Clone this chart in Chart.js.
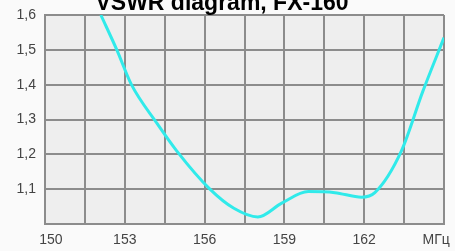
<!DOCTYPE html>
<html>
<head>
<meta charset="utf-8">
<script src="https://cdn.jsdelivr.net/npm/chart.js@4/dist/chart.umd.min.js"></script>
<style>
    html, body { margin: 0; padding: 0; background: #fafafa; overflow: hidden; }
    #wrap { position: relative; width: 455px; height: 263px; margin-top: -12px; }
</style>
</head>
<body>
<div id="wrap"><canvas id="chart"></canvas></div>
<script>
const title = 'VSWR diagram, FX-160';
const unitLabel = 'МГц';
const xLabels = [150, 153, 156, 159, 162];
const frequencies = [152.1, 152.7, 153.25, 154.2, 154.95, 156.2, 157.1, 158.0, 158.9, 159.9, 160.9, 161.9, 162.4, 163.4, 164.2, 165.0];
const vswr = [1.60, 1.50, 1.40, 1.29, 1.21, 1.10, 1.045, 1.02, 1.06, 1.093, 1.09, 1.077, 1.09, 1.21, 1.38, 1.535];

const tickFont = { family: '"Liberation Sans", Arial, sans-serif', size: 14 };
const nbsp = '\u00a0';

const plotBackground = {
    id: 'plotBackground',
    beforeDraw(chart) {
        const { ctx, chartArea } = chart;
        ctx.save();
        ctx.fillStyle = '#eeeeee';
        ctx.fillRect(chartArea.left, chartArea.top, chartArea.width, chartArea.height);
        ctx.restore();
    },
};

// edge labels sit a little inside the plot, like the original scan
function xTickLabel(value) {
    if (Math.abs(value - 165) < 1e-6) {
        return unitLabel + nbsp.repeat(4);
    }
    const hit = xLabels.find((v) => Math.abs(v - value) < 1e-6);
    if (hit === undefined) {
        return '';
    }
    return hit === xLabels[0] ? nbsp.repeat(3) + hit : String(hit);
}

new Chart(document.getElementById('chart'), {
    type: 'line',
    data: {
        datasets: [
            {
                data: frequencies.map((f, i) => ({ x: f, y: vswr[i] })),
                borderColor: '#30eaea',
                borderWidth: 3,
                pointRadius: 0,
                cubicInterpolationMode: 'monotone',
                fill: false,
            },
        ],
    },
    options: {
        responsive: true,
        maintainAspectRatio: false,
        animation: false,
        layout: { padding: { right: 11 } },
        plugins: {
            legend: { display: false },
            tooltip: { enabled: false },
            title: {
                display: true,
                text: title,
                color: '#000',
                font: { family: '"Liberation Sans", Arial, sans-serif', size: 23, weight: 'bold', lineHeight: 1 },
                padding: { top: 4, bottom: 0 },
            },
        },
        scales: {
            x: {
                type: 'linear',
                min: 150,
                max: 165,
                afterFit: (scale) => {
                    scale.height = 27;
                    scale.paddingLeft = 0;
                    scale.paddingRight = 0;
                },
                border: { color: '#8c8c8c', width: 2 },
                grid: { color: '#8c8c8c', lineWidth: 2, drawTicks: false },
                ticks: {
                    stepSize: 1.5,
                    autoSkip: false,
                    maxRotation: 0,
                    padding: 8,
                    color: '#444444',
                    font: tickFont,
                    callback: xTickLabel,
                },
            },
            y: {
                min: 1.0,
                max: 1.6,
                afterFit: (scale) => {
                    scale.width = 45;
                    scale.paddingTop = 0;
                    scale.paddingBottom = 0;
                },
                border: { color: '#8c8c8c', width: 2 },
                grid: { color: '#8c8c8c', lineWidth: 2, drawTicks: false },
                ticks: {
                    stepSize: 0.1,
                    padding: 9,
                    color: '#444444',
                    font: tickFont,
                    callback: (value) => (value < 1.05 ? '' : value.toFixed(1).replace('.', ',')),
                },
            },
        },
    },
    plugins: [plotBackground],
});
</script>
</body>
</html>
